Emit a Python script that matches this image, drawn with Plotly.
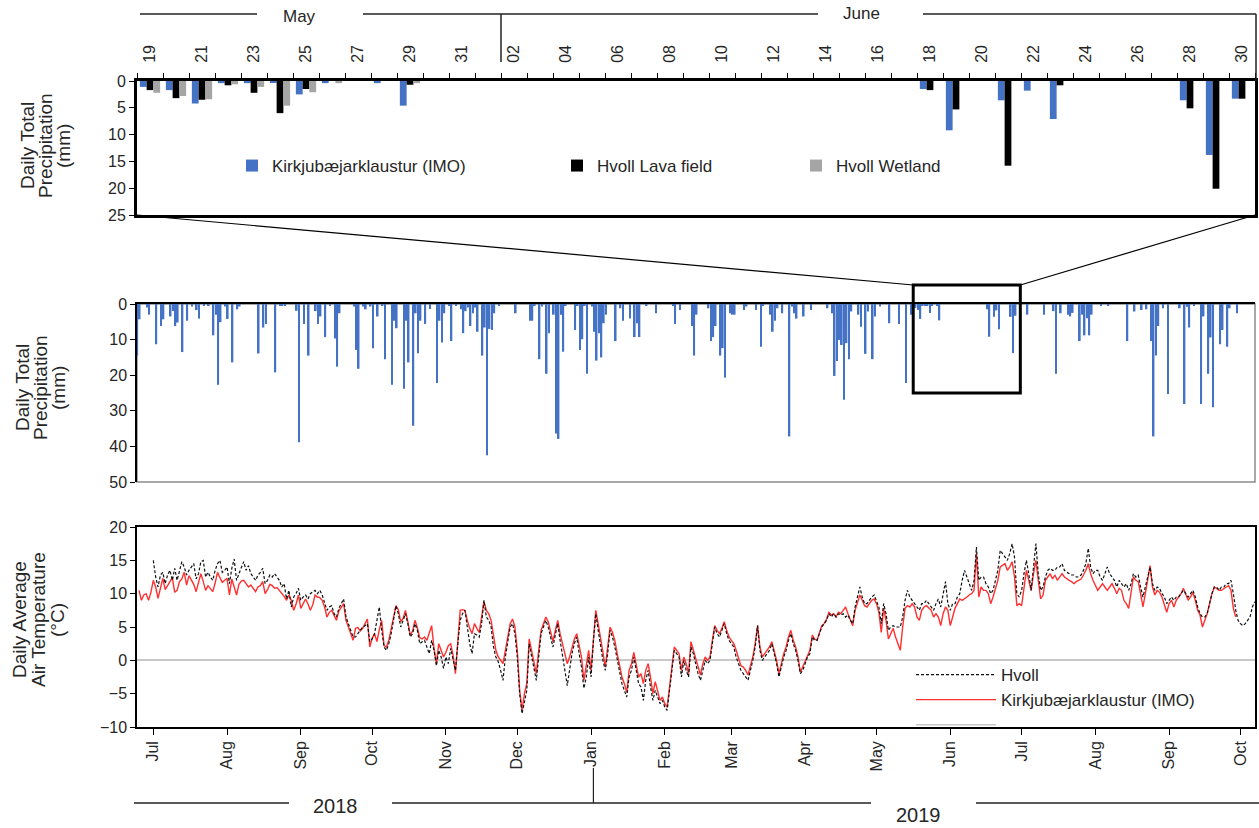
import plotly.graph_objects as go
import pandas as pd

W, H = 1259, 828
FONT = "Liberation Sans, Arial, sans-serif"
TXT = "#262626"
BLUE = "#4472C4"

# ---------------- DATA ----------------
# Kirkjubaejarklaustur (IMO) daily precipitation (mm); days counted from rain_origin, dry days omitted
rain_origin = "2018-07-01"
rain_day = [-5, -4, -1, 0, 3, 5, 6, 9, 10, 11, 12, 14, 16, 18, 20, 21, 23, 25, 27, 28, 29, 30, 32, 33, 35, 37, 38,
            46, 48, 49, 53, 55, 56, 57, 62, 63, 65, 67, 70, 71, 72, 74, 76, 78, 79, 80, 86, 87, 88, 90, 91, 93, 94,
            96, 98, 99, 102, 103, 104, 107, 108, 109, 111, 112, 113, 114, 116, 118, 121, 122, 123, 124, 126, 127,
            129, 131, 132, 133, 134, 135, 136, 137, 138, 140, 141, 142, 143, 144, 145, 147, 154,
            160, 161, 162, 164, 165, 167, 168, 170, 171, 172, 173, 174, 175, 179, 180, 181, 182, 183, 184, 186,
            187, 188, 189, 190, 191, 192, 196, 198, 199, 202, 204, 205, 206, 209, 213, 220, 221, 223, 228, 229,
            230, 235, 236, 237, 238, 240, 241, 242, 244, 245, 246, 250, 251, 255, 257, 258, 261, 262, 263, 264,
            266, 269, 270, 271, 272, 275, 278, 285, 287, 288, 289, 290, 291, 292, 293, 294, 295, 298, 299, 301,
            302, 304, 305, 307, 311, 315, 318, 320, 321,
            322, 323, 324, 325, 326, 327, 328, 329, 331, 332, 352, 353, 355, 356, 357, 362, 363, 364,
            369, 376, 380, 381, 383, 386, 387, 388, 391, 392, 393, 394, 395, 396, 400, 403, 411, 414, 417, 419,
            421, 422, 423, 424, 426, 428, 433, 435, 436, 437, 439, 442, 443, 445, 446, 447, 450, 451, 453, 454, 457]
rain_mm = [14.5, 4.3, 1.0, 3.0, 11.3, 6.2, 4.3, 3.5, 2.0, 6.2, 5.2, 13.5, 4.7, 0.7, 1.7, 4.1, 0.5, 0.5, 8.8, 3.0,
           22.7, 5.1, 0.7, 4.2, 16.4, 1.5, 0.7,
           13.9, 6.6, 5.6, 19.2, 0.5, 0.5, 0.5, 1.9, 38.8, 5.6, 14.5, 2.0, 5.6, 3.5, 9.3, 0.5, 9.7, 17.6, 2.6, 0.7,
           12.9, 18.2, 0.7, 1.5, 0.7, 12.4,
           3.5, 0.5, 15.5, 22.7, 4.7, 6.8, 23.8, 4.7, 16.4, 34.2, 2.6, 13.8, 4.7, 5.6, 1.4, 22.2, 4.7, 10.8, 2.6,
           0.5, 10.4,
           0.3, 1.5, 8.2, 2.0, 1.0, 6.2, 2.6, 1.0, 7.8, 14.5, 6.6, 42.5, 7.0, 7.3, 2.6, 0.5, 2.6,
           4.7, 4.7, 0.5, 15.5, 0.7, 19.6, 8.2, 3.0, 36.4, 37.9, 3.0, 13.4, 0.5, 7.3, 0.5, 12.9, 9.9, 0.5, 19.6, 0.7,
           7.8, 15.9, 8.2, 15.0, 5.4, 3.0, 10.4, 1.2, 4.7, 4.1, 9.3, 5.4, 9.3, 0.5, 2.6, 0.5, 5.6, 1.7, 6.2, 14.5,
           3.0, 1.2, 10.4, 9.3, 6.2, 14.5, 12.4, 20.7, 2.6, 3.0, 3.0, 1.7, 0.7, 1.7, 12.0, 0.5, 3.0, 7.8, 4.7, 1.2,
           2.6, 37.2, 0.7, 2.6, 4.1, 3.5, 1.7, 1.2, 2.6, 20.2, 16.0, 10.1, 11.5, 26.9, 11.0, 15.5, 2.1, 3.0, 6.4, 14.0,
           2.1, 15.5, 3.5, 0.7, 5.4, 5.6, 22.2, 3.0, 1.5,
           1.1, 1.7, 4.2, 0.4, 0.4, 0.3, 2.5, 0.4, 0.4, 4.6, 1.5, 9.2, 3.6, 1.8, 7.1, 3.6, 13.8, 3.3,
           3.0, 3.0, 2.0, 19.6, 2.6, 3.0, 3.5, 2.5, 10.4, 3.0, 8.8, 4.0, 8.8, 3.0, 0.5, 0.5, 10.4, 2.1, 1.7, 1.5,
           10.4, 37.2, 14.5, 6.2, 1.2, 25.3, 1.2, 28.1, 0.8, 6.6, 0.5, 28.1, 3.5, 19.6, 9.4, 29.0, 11.3, 7.3, 12.0, 1.2, 2.6]

# zoom window: 19 May - 30 June 2019, Hvoll stations (mm)
zoom_start, zoom_end = "2019-05-19", "2019-06-30"
lava_mm = [1.7, 3.2, 3.5, 0.8, 2.2, 6.0, 1.5, 0, 0, 0, 0.7, 0, 0,
           0, 0, 0, 0, 0, 0, 0, 0, 0, 0, 0, 0, 0, 0, 0, 0, 0,
           1.7, 5.3, 0, 15.8, 0, 0.8, 0, 0, 0, 0, 5.1, 20.1, 3.3]
wetland_mm = [2.2, 2.8, 3.4, 0.6, 1.1, 4.6, 2.1, 0.4, 0, 0, 0.4, 0, 0,
              0, 0, 0, 0, 0, 0, 0, 0, 0, 0, 0, 0, 0, 0, 0, 0, 0,
              0, 0, 0, 0, 0, 0, 0, 0, 0, 0, 0, 0, 0]

# daily average air temperature (deg C)
kirk_temp_start = "2018-06-25"
kirk_temp = [
    10.5, 9.0, 9.8, 10.0, 9.0, 10.2,
    12.0, 11.0, 9.3, 10.8, 12.3, 10.6, 11.2, 11.8, 12.4, 10.2,
    10.5, 11.8, 12.2, 13.2, 11.3, 12.7, 12.0, 11.4, 10.3, 11.8,
    13.0, 11.8, 10.5, 11.2, 10.8, 10.3, 11.6, 13.2, 12.4, 11.7,
    12.0, 12.3, 9.8, 12.2, 11.0, 9.8, 11.4, 11.9, 12.0, 11.5,
    11.0, 11.3, 10.8, 10.3, 11.0, 11.2, 11.8, 10.0, 10.6, 11.4,
    11.2, 10.8, 10.9, 10.5, 10.0, 9.6, 9.0, 9.8, 9.0, 7.5,
    8.4, 9.8, 7.8, 8.6, 9.2, 8.5, 7.5, 8.3, 9.8, 9.5,
    9.4, 9.0, 8.0, 6.5, 7.2, 7.5, 6.8, 6.0, 7.4, 8.0,
    8.5, 6.0, 5.0, 4.2, 3.0, 4.8, 4.9, 4.4, 4.8, 5.5,
    6.2, 2.0, 3.3, 4.0, 2.8, 4.6, 6.0, 2.2, 2.0, 3.0,
    4.8, 6.5, 8.2, 7.6, 5.8, 6.3, 7.5, 5.8, 3.8, 4.4,
    6.0, 4.9, 3.4, 3.2, 3.5, 3.0, 4.0, 5.2, 1.8, -0.5,
    2.5, 1.5, 0.5, 1.2, 2.2, 2.5, 0.8, -2.0, 3.5, 7.5,
    7.6, 7.5, 6.0, 4.8, 4.0, 5.5, 4.8, 4.2, 6.5, 8.8,
    7.5, 7.0, 6.0, 3.5, 1.5, 0.5, 0.0, -0.5, 1.5, 3.5,
    5.5, 6.2, 5.0, 1.5, -4.5, -7.5, -5.0, -3.5, 3.2, 1.5,
    -0.5, -2.0, 1.5, 4.5, 5.5, 6.5, 5.8, 4.5, 2.8, 4.5,
    6.0, 4.0, 2.5, 1.0, -0.5, 0.5, 2.0, 3.2, 4.0, 2.2,
    0.5, -3.0, -1.0, 1.5, -1.5, 3.5, 7.5, 5.5, 3.0, 1.2,
    -1.0, 2.0, 5.0, 4.2, 3.0, 1.0, -1.0, -2.5, -3.5, -4.8,
    -1.5, -0.5, 1.2, -0.5, -2.5, -2.0, -3.5, -1.5, -0.5, -2.5,
    -5.0, -3.2, -4.5, -6.0, -5.5, -6.5, -7.0, -3.5, -1.0, 2.0,
    1.5, 1.0, -1.5, 0.5, -0.5, -2.0, 2.8, 1.5, 0.5, -1.0,
    -2.2, -0.5, 0.5, 0.0, 0.5, 3.0, 5.2, 4.5, 4.0, 4.8,
    5.8, 4.5, 3.5, 3.0, 2.5, 1.5, 0.5, -0.8, -1.0, -1.5,
    -2.2, -1.0, 0.5, 2.5, 5.2, 2.0, 0.5, 1.0, 1.5, 2.0,
    2.8, 1.5, 0.0, -2.0, -0.5, 1.0, 2.0, 3.5, 4.5, 3.0,
    2.0, 0.5, -1.8, -1.0, 0.0, 0.8, 1.5, 3.8, 3.2, 3.0,
    4.0, 5.2, 5.5, 6.2, 7.2, 6.8, 7.0, 6.5, 7.2, 7.0,
    7.5, 8.0, 7.0, 6.0, 5.2, 7.5, 8.5, 9.8, 9.0, 8.2,
    8.0, 8.5, 9.0, 9.2, 8.5, 7.2, 4.2, 7.8, 6.0, 3.2,
    4.0, 4.8, 3.5, 2.5, 1.5, 5.0, 7.8, 8.2, 8.0, 8.5,
    8.0, 6.5, 6.0, 7.5, 8.0, 8.2, 7.8, 7.5, 6.5, 7.0,
    6.5, 5.2, 7.0, 8.0, 7.5, 5.2, 6.5, 7.8, 8.5, 9.2,
    9.0, 9.2, 9.5, 9.8, 10.0, 10.5, 16.0, 9.5, 11.0, 10.5,
    10.5, 10.0, 8.5, 9.5, 10.8, 12.0, 14.0, 14.2, 14.5, 13.5,
    14.0, 14.8, 12.5, 8.2, 8.5, 8.2, 11.0, 13.5, 12.0, 10.5,
    13.0, 15.0, 12.0, 9.2, 9.8, 12.0, 12.5, 13.0, 12.2, 12.8,
    12.0, 12.5, 13.0, 12.5, 12.2, 12.0, 11.8, 11.5, 11.8, 12.0,
    12.2, 12.8, 13.5, 14.5, 13.0, 12.0, 11.2, 10.5, 11.0, 11.5,
    11.0, 10.5, 11.0, 11.5, 10.8, 10.0, 10.8, 10.5, 9.0, 8.5,
    7.8, 10.0, 12.5, 12.0, 11.8, 10.0, 8.0, 10.0, 12.0, 14.2,
    11.0, 9.8, 10.5, 10.2, 9.5, 8.5, 7.2, 8.5, 9.0, 8.0,
    9.0, 9.5, 10.0, 10.8, 10.0, 9.0, 9.5, 10.2, 9.0, 7.5,
    6.8, 5.0, 6.0, 7.0, 8.5, 10.0, 11.0, 10.8, 10.5, 10.5,
    10.8, 11.0, 11.2, 10.5, 7.8, 6.5]

hvoll_temp_start = "2018-07-01"
hvoll_temp = [
    15.0, 12.5, 11.0, 12.8, 13.2, 11.5, 12.8, 13.5, 12.0, 13.8,
    12.0, 13.5, 14.8, 14.0, 12.8, 13.5, 14.0, 14.5, 12.2, 13.0,
    14.8, 15.0, 12.5, 13.2, 12.5, 12.0, 13.5, 14.5, 15.0, 13.2,
    13.5, 14.0, 11.5, 13.8, 15.2, 12.0, 13.0, 13.8, 14.8, 13.5,
    14.2, 13.0, 12.5, 12.0, 12.8, 13.2, 13.8, 11.5, 12.0, 12.8,
    12.5, 13.0, 12.5, 12.0, 11.0, 11.5, 9.2, 10.5, 8.0, 9.5,
    10.0, 10.8, 9.0, 9.5, 9.8, 9.2, 10.0, 10.2, 10.5, 10.0,
    10.5, 9.8, 8.8, 7.5, 8.0, 8.2, 7.0, 6.5, 7.8, 8.5,
    9.2, 6.5, 5.5, 4.5, 3.5, 3.5, 4.0, 4.5, 5.0, 5.2,
    5.5, 2.8, 3.2, 4.0, 6.0, 8.0, 4.5, 2.0, 1.5, 2.5,
    4.0, 6.0, 8.2, 7.0, 5.0, 6.0, 7.0, 5.5, 3.5, 4.0,
    5.5, 4.5, 2.5, 2.8, 3.0, 2.0, 1.0, 3.0, 1.5, -0.8,
    1.5, 0.5, -1.2, 0.5, -0.5, 1.8, 0.0, -1.5, 2.5, 6.0,
    7.0, 7.5, 5.0, 2.5, 1.0, 4.0, 3.8, 3.5, 5.5, 9.0,
    6.5, 6.0, 5.0, 2.0, 0.5, -0.2, -1.5, -3.0, 0.5, 3.0,
    5.0, 5.5, 4.0, 0.5, -5.0, -8.0, -6.0, -4.5, 2.5, 0.5,
    -1.5, -3.0, 0.5, 4.0, 5.0, 6.0, 5.0, 3.5, 2.0, 3.8,
    5.5, 3.0, 1.0, -1.5, -3.8, -1.0, 1.0, 2.5, 3.5, 1.0,
    -1.0, -4.2, -2.5, 0.5, -2.5, 3.0, 7.0, 4.5, 2.0, 0.0,
    -1.5, 1.0, 4.5, 3.5, 2.0, 0.0, -2.0, -3.5, -4.5, -5.5,
    -2.5, -1.5, 0.5, -1.5, -3.5, -4.0, -6.0, -3.0, -1.5, -4.0,
    -6.0, -4.5, -5.5, -6.5, -6.0, -7.0, -7.5, -4.5, -2.0, 1.5,
    1.0, 0.5, -2.5, 0.0, -1.5, -2.5, 2.0, 1.0, -0.5, -2.0,
    -3.0, -1.5, 0.0, -0.5, 0.0, 2.5, 5.0, 4.0, 3.5, 4.5,
    5.5, 4.0, 3.0, 2.5, 2.0, 0.5, -0.5, -1.5, -2.0, -2.5,
    -3.0, -1.5, 0.0, 2.0, 5.2, 1.5, 0.0, 0.5, 1.0, 1.5,
    2.5, 1.0, -0.5, -2.5, -1.0, 0.5, 1.5, 3.0, 4.0, 2.5,
    1.5, 0.0, -2.0, -1.5, -0.5, 0.5, 1.0, 3.5, 3.0, 3.0,
    4.0, 5.0, 5.5, 6.0, 7.0, 6.5, 7.0, 6.5, 7.0, 6.8,
    7.0, 6.5, 6.8, 6.0, 5.5, 8.0, 9.5, 11.0, 9.5, 8.5,
    8.5, 9.0, 9.5, 9.8, 9.0, 8.0, 5.5, 8.5, 7.0, 4.5,
    5.0, 5.2, 5.0, 5.0, 5.0, 6.5, 9.0, 10.5, 9.5, 9.0,
    8.5, 8.0, 7.5, 8.5, 8.5, 9.0, 8.5, 8.0, 7.5, 8.5,
    9.2, 8.0, 10.0, 11.8, 8.5, 7.5, 8.5, 8.5, 9.5, 10.0,
    12.0, 13.5, 12.5, 11.5, 10.5, 12.0, 17.0, 12.0, 12.5, 12.5,
    11.5, 11.0, 10.0, 10.5, 12.0, 13.5, 16.5, 16.0, 15.5, 15.0,
    16.0, 17.5, 15.5, 10.0, 9.5, 10.5, 13.0, 15.0, 13.0, 10.5,
    14.0, 17.5, 13.0, 10.5, 11.0, 12.5, 13.5, 13.8, 13.5, 13.5,
    14.0, 14.0, 14.5, 13.5, 13.2, 13.0, 12.8, 12.8, 12.5, 12.5,
    12.8, 13.5, 14.5, 16.8, 14.0, 13.0, 13.5, 13.5, 12.5, 12.0,
    13.0, 14.0, 13.0, 12.5, 12.0, 11.0, 12.0, 11.5, 11.0, 11.5,
    10.5, 11.5, 13.0, 12.5, 12.8, 11.0, 9.5, 11.0, 12.5, 14.0,
    11.5, 10.5, 11.0, 10.8, 10.0, 9.5, 8.5, 9.0, 9.5, 9.0,
    9.5, 9.5, 10.0, 10.5, 10.0, 9.5, 10.0, 10.5, 9.5, 8.0,
    7.0, 6.5, 6.5, 7.0, 8.5, 10.0, 11.0, 11.0, 10.5, 11.0,
    11.0, 11.5, 11.5, 12.0, 10.0, 7.5, 6.0, 5.5, 5.2, 5.5,
    6.0, 6.5, 8.0, 8.8]

month_ticks = pd.date_range("2018-07-01", "2019-10-01", freq="MS")

# ---------------- helpers ----------------
def px(x):
    return x / W

def py(y):
    return 1 - y / H

base = pd.Timestamp(rain_origin)
rain_dates = [base + pd.Timedelta(days=d) for d in rain_day]
rain_lookup = dict(zip(rain_dates, rain_mm))
zoom_dates = pd.date_range(zoom_start, zoom_end, freq="D")
kirk_zoom = [rain_lookup.get(t, 0) for t in zoom_dates]
kirk_t_dates = pd.date_range(kirk_temp_start, periods=len(kirk_temp), freq="D")
hvoll_t_dates = pd.date_range(hvoll_temp_start, periods=len(hvoll_temp), freq="D")

XD = [px(137), px(1255)]
top_range = [pd.Timestamp(zoom_start) - pd.Timedelta(hours=12), pd.Timestamp(zoom_end) + pd.Timedelta(hours=12)]
mid_range = [base + pd.Timedelta(days=-5.13), base + pd.Timedelta(days=464.6)]
bot_range = [base + pd.Timedelta(days=-6.85), base + pd.Timedelta(days=463.1)]

def mid_paper(t):
    t = pd.Timestamp(t)
    return XD[0] + (t - mid_range[0]) / (mid_range[1] - mid_range[0]) * (XD[1] - XD[0])

DAY_MS = 86400000

fig = go.Figure()
fig.add_bar(x=zoom_dates, y=kirk_zoom, name="Kirkjubæjarklaustur (IMO)", marker_color=BLUE,
            marker_line_width=0, xaxis="x", yaxis="y", legend="legend")
fig.add_bar(x=zoom_dates, y=lava_mm, name="Hvoll Lava field", marker_color="#000000",
            marker_line_width=0, xaxis="x", yaxis="y", legend="legend2")
fig.add_bar(x=zoom_dates, y=wetland_mm, name="Hvoll Wetland", marker_color="#A5A5A5",
            marker_line_width=0, xaxis="x", yaxis="y", legend="legend3")
fig.add_bar(x=rain_dates, y=rain_mm, width=0.7 * DAY_MS, marker_color=BLUE, marker_line_width=0,
            xaxis="x2", yaxis="y2", showlegend=False)
fig.add_scatter(x=[None], y=[None], mode="lines", line=dict(color="#C8C8C8", width=1.5),
                name=" ", xaxis="x3", yaxis="y3", legend="legend4")
fig.add_scatter(x=kirk_t_dates, y=kirk_temp, mode="lines", line=dict(color="#FF3030", width=1.4),
                name="Kirkjubæjarklaustur (IMO)", xaxis="x3", yaxis="y3", legend="legend4")
fig.add_scatter(x=hvoll_t_dates, y=hvoll_temp, mode="lines",
                line=dict(color="#111111", width=1.2, dash="3px,2px"),
                name="Hvoll", xaxis="x3", yaxis="y3", legend="legend4")

tickfont = dict(family=FONT, size=16, color=TXT)

fig.update_layout(
    width=W, height=H, margin=dict(l=0, r=0, t=0, b=0, autoexpand=False),
    paper_bgcolor="white", plot_bgcolor="white",
    font=dict(family=FONT, size=16, color=TXT),
    barmode="group", bargap=0.22, bargroupgap=0,
    xaxis=dict(domain=XD, anchor="y", type="date", range=top_range, side="top", automargin=False,
               tickmode="array", tickvals=list(zoom_dates[::2]), tickformat="%d", tickangle=-90,
               ticks="", ticklabelstandoff=12, tickfont=tickfont,
               minor=dict(ticks="outside", ticklen=5, tickcolor="black", tickwidth=1,
                          tick0=top_range[0], dtick=DAY_MS, showgrid=False),
               showline=True, linecolor="black", linewidth=3, mirror=True, showgrid=False, zeroline=False),
    yaxis=dict(domain=[py(215), py(81)], anchor="x", range=[25, 0], tickvals=[0, 5, 10, 15, 20, 25],
               ticks="outside", ticklen=5, tickcolor="black", tickfont=tickfont, automargin=False,
               showline=True, linecolor="black", linewidth=3, mirror=True, showgrid=False, zeroline=False),
    xaxis2=dict(domain=XD, anchor="y2", type="date", range=mid_range, side="top", automargin=False,
                showticklabels=False, ticks="", showline=True, linecolor="black", linewidth=1.5,
                showgrid=False, zeroline=False),
    yaxis2=dict(domain=[py(482), py(304)], anchor="x2", range=[50, 0], tickvals=[0, 10, 20, 30, 40, 50],
                ticks="outside", ticklen=5, tickcolor="black", tickfont=tickfont, automargin=False,
                showline=True, linecolor="black", linewidth=1.5, showgrid=False, zeroline=False),
    xaxis3=dict(domain=XD, anchor="y3", type="date", range=bot_range, automargin=False,
                tickmode="array", tickvals=list(month_ticks), tickformat="%b", tickangle=-90,
                ticks="outside", ticklen=6, tickcolor="black", tickfont=tickfont,
                showline=True, linecolor="black", linewidth=1.5, mirror=True, showgrid=False),
    yaxis3=dict(domain=[py(727), py(527)], anchor="x3", range=[-10, 20], tickvals=[-10, -5, 0, 5, 10, 15, 20],
                ticks="outside", ticklen=5, tickcolor="black", tickfont=tickfont, automargin=False,
                showline=True, linecolor="black", linewidth=1.5, mirror=True, showgrid=False,
                zeroline=True, zerolinecolor="#C8C8C8", zerolinewidth=1.5),
)

leg_common = dict(xanchor="left", yanchor="middle", bgcolor="rgba(0,0,0,0)", borderwidth=0,
                  font=dict(family=FONT, size=17, color=TXT), itemwidth=30, orientation="v")
fig.update_layout(
    legend=dict(x=px(272 - 40), y=py(166), **leg_common),
    legend2=dict(x=px(597 - 40), y=py(166), **leg_common),
    legend3=dict(x=px(836 - 40), y=py(166), **leg_common),
    legend4=dict(x=px(1001 - 90), y=py(657), xanchor="left", yanchor="top", bgcolor="rgba(0,0,0,0)",
                 borderwidth=0, font=dict(family=FONT, size=17, color=TXT), itemwidth=80,
                 traceorder="reversed", tracegroupgap=0),
)

shapes = []
def pline(x0, y0, x1, y1, w=1.5, color="#222222", xref="paper"):
    shapes.append(dict(type="line", xref=xref, yref="paper", x0=x0, y0=y0, x1=x1, y1=y1,
                       line=dict(color=color, width=w)))

# month brackets above zoom panel
pline(px(140), py(14), px(257), py(14))
pline(px(363), py(14), px(818), py(14))
pline(px(923), py(14), px(1256), py(14))
pline("2019-06-01 12:00", py(14), "2019-06-01 12:00", py(62), xref="x")
pline(px(1256), py(14), px(1256), py(81))
# year brackets below temperature panel
pline(px(134), py(803), px(289), py(803))
pline(px(392), py(803), px(871), py(803))
pline(px(976), py(803), px(1259), py(803))
pline("2019-01-02", py(768), "2019-01-02", py(803), xref="x3", w=1.2)
# grey outer frame of middle panel
shapes.append(dict(type="rect", xref="paper", yref="paper", x0=XD[0], x1=XD[1], y0=py(482), y1=py(304),
                   line=dict(color="#8c8c8c", width=1.5), layer="below"))
# zoom box and connectors
box_x0, box_x1 = "2019-05-18", "2019-07-02"
shapes.append(dict(type="rect", xref="x2", yref="paper", x0=box_x0, x1=box_x1, y0=py(393), y1=py(285),
                   line=dict(color="black", width=3)))
pline(XD[0], py(215), mid_paper(box_x0), py(285), w=1.2, color="black")
pline(XD[1], py(215), mid_paper(box_x1), py(285), w=1.2, color="black")

ann = []
def text(s, x, y, size=15, angle=0):
    ann.append(dict(text=s, x=px(x), y=py(y), xref="paper", yref="paper", showarrow=False,
                    xanchor="center", yanchor="middle", textangle=angle,
                    font=dict(family=FONT, size=size, color=TXT)))

text("May", 299, 17, size=17)
text("June", 861, 14, size=17)
text("2018", 335, 806, size=20)
text("2019", 918, 815, size=20)
for s, x in [("Daily Total", 27), ("Precipitation", 45), ("(mm)", 63)]:
    text(s, x, 146, size=19, angle=-90)
for s, x in [("Daily Total", 22), ("Precipitation", 40), ("(mm)", 58)]:
    text(s, x, 388, size=19, angle=-90)
for s, x in [("Daily Average", 19), ("Air Temperature", 38), ("(°C)", 57)]:
    text(s, x, 620, size=19, angle=-90)

fig.update_layout(shapes=shapes, annotations=ann)
fig.write_html("out.html")
